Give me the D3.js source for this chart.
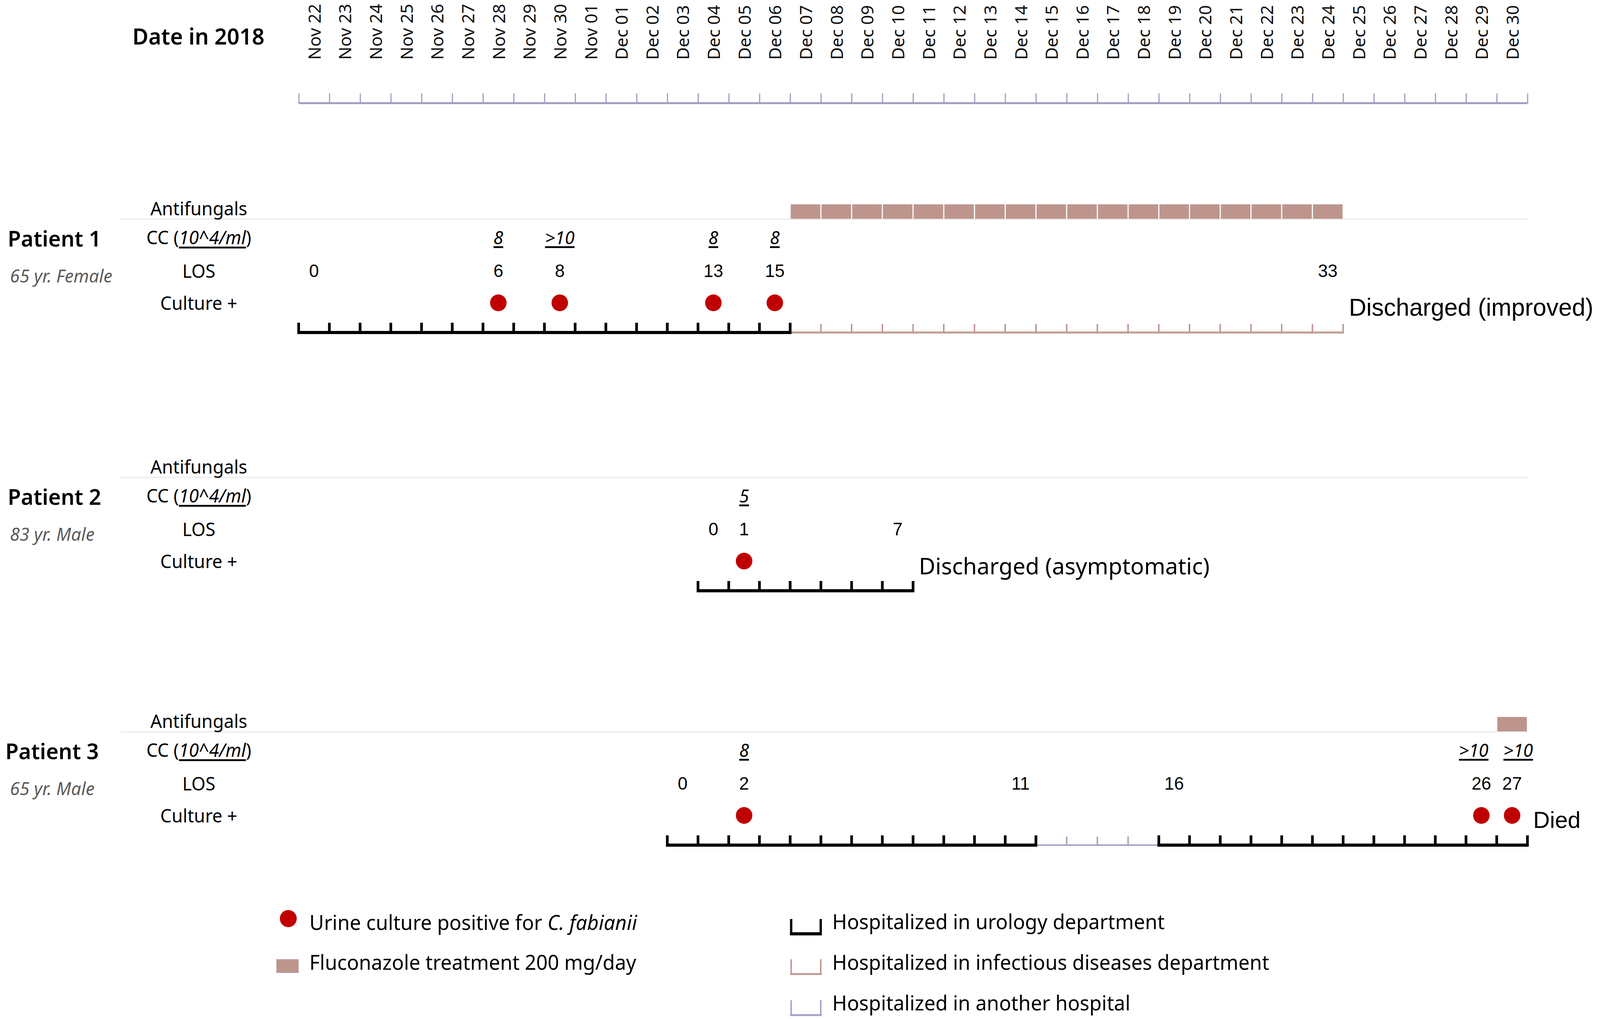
<!DOCTYPE html>
<html>
<head>
<meta charset="utf-8">
<script src="https://cdn.jsdelivr.net/npm/d3@7"></script>
<style>
  html, body { margin: 0; padding: 0; background: #fff; overflow: hidden; }
  svg { display: block; width: 100vw; height: 100vh; }
</style>
</head>
<body>
<svg id="chart" viewBox="0 0 4168 2608" preserveAspectRatio="none"></svg>
<script>
// ---------------- DATA ----------------
const dateLabels = [
  "Nov 22","Nov 23","Nov 24","Nov 25","Nov 26","Nov 27","Nov 28","Nov 29","Nov 30","Nov 01",
  "Dec 01","Dec 02","Dec 03","Dec 04","Dec 05","Dec 06","Dec 07","Dec 08","Dec 09","Dec 10",
  "Dec 11","Dec 12","Dec 13","Dec 14","Dec 15","Dec 16","Dec 17","Dec 18","Dec 19","Dec 20",
  "Dec 21","Dec 22","Dec 23","Dec 24","Dec 25","Dec 26","Dec 27","Dec 28","Dec 29","Dec 30"
];
const patientNames = ["Patient 1", "Patient 2", "Patient 3"];
const patientInfo  = ["65 yr. Female", "83 yr. Male", "65 yr. Male"];
const outcomes     = ["Discharged (improved)", "Discharged (asymptomatic)", "Died"];
const rowLabels    = ["Antifungals", "CC", "LOS", "Culture +"];

// hospital stays: [department, start day index, end day index]
const staysP1 = [["urology", 0, 16], ["infectious", 16, 34]];
const staysP2 = [["urology", 13, 20]];
const staysP3 = [["urology", 12, 24], ["another", 24, 28], ["urology", 28, 40]];

// positive urine culture days
const cultureP1 = [6, 8, 13, 15];
const cultureP2 = [14];
const cultureP3 = [14, 38, 39];

// colony counts (10^4/ml): [day, value]
const ccP1 = [[6, "8"], [8, ">10"], [13, "8"], [15, "8"]];
const ccP2 = [[14, "5"]];
const ccP3 = [[14, "8"], [38, ">10"], [39, ">10"]];

// length of stay labels: [day, value]
const losP1 = [[0, "0"], [6, "6"], [8, "8"], [13, "13"], [15, "15"], [33, "33"]];
const losP2 = [[13, "0"], [14, "1"], [19, "7"]];
const losP3 = [[12, "0"], [14, "2"], [23, "11"], [28, "16"], [38, "26"], [39, "27"]];

// fluconazole treatment days
const antifungalP1 = [16, 17, 18, 19, 20, 21, 22, 23, 24, 25, 26, 27, 28, 29, 30, 31, 32, 33];
const antifungalP2 = [];
const antifungalP3 = [39];

const legendItems = [
  "Urine culture positive for ", "Fluconazole treatment 200 mg/day",
  "Hospitalized in urology department", "Hospitalized in infectious diseases department",
  "Hospitalized in another hospital"
];

// ---------------- STYLE ----------------
const C = {
  dot: "#c00000",
  drug: "#bd958d",
  infectious: "#c09a92",
  another: "#a7a3c8",
  axis: "#a09cc2",
  urology: "#000000",
  sep: "#efefef"
};
const FONT = "'Noto Sans', 'DejaVu Sans', sans-serif";
const ARIAL = "'Liberation Sans', Arial, sans-serif";

// ---------------- SCALES ----------------
const x = d3.scaleLinear().domain([0, 40]).range([778, 3979]);
const dayW = x(1) - x(0);
const cx = d => x(d + 0.5);

const svg = d3.select("#chart");
svg.append("rect").attr("width", 4168).attr("height", 2608).attr("fill", "#fff");

// ---------------- HEADER AXIS ----------------
svg.append("text")
  .attr("x", 345).attr("y", 92)
  .attr("dominant-baseline", "central")
  .style("font-family", FONT).style("font-size", "57px").style("font-weight", "600")
  .text("Date in 2018");

const axisG = svg.append("g").attr("transform", "translate(0,264)");
const topAxis = d3.axisTop(x).tickValues(d3.range(0, 41)).tickSize(25).tickFormat("");
axisG.call(topAxis);
axisG.select(".domain").attr("stroke", C.axis).attr("stroke-width", 5)
  .attr("d", `M${x(0)},0H${x(40)}`);
axisG.selectAll(".tick line").attr("stroke", C.axis).attr("stroke-width", 3);

svg.append("g").selectAll("text").data(dateLabels).join("text")
  .attr("transform", (d, i) => `translate(${cx(i)},153) rotate(-90)`)
  .attr("text-anchor", "start")
  .attr("dominant-baseline", "central")
  .style("font-family", FONT).style("font-size", "44px").attr("fill", "#111")
  .text(d => d);

// ---------------- PATIENTS ----------------
const patients = [
  { base: 561,  stays: staysP1, culture: cultureP1, cc: ccP1, los: losP1, drug: antifungalP1 },
  { base: 1222, stays: staysP2, culture: cultureP2, cc: ccP2, los: losP2, drug: antifungalP2 },
  { base: 1873, stays: staysP3, culture: cultureP3, cc: ccP3, los: losP3, drug: antifungalP3 }
];
const OFF = { drugText: -28, cc: 46, los: 132, culture: 214, line: 290 };
const labelX = 518;

patients.forEach((p, pi) => {
  const g = svg.append("g");
  const b = p.base;

  // separator
  g.append("line").attr("x1", 314).attr("x2", x(40)).attr("y1", b).attr("y2", b)
    .attr("stroke", C.sep).attr("stroke-width", 4);

  // patient name & info
  g.append("text").attr("x", pi === 2 ? 14 : 20).attr("y", b + OFF.cc + 2)
    .attr("dominant-baseline", "central")
    .style("font-family", FONT).style("font-size", "56px").style("font-weight", "600")
    .text(patientNames[pi]);
  g.append("text").attr("x", 26).attr("y", b + OFF.los + 12)
    .attr("dominant-baseline", "central")
    .style("font-family", FONT).style("font-size", "46px").style("font-style", "italic")
    .attr("fill", "#5a5a5a")
    .text(patientInfo[pi]);

  // row labels
  const rowY = [b + OFF.drugText, b + OFF.cc, b + OFF.los, b + OFF.culture];
  rowLabels.forEach((lab, li) => {
    const t = g.append("text").attr("x", labelX).attr("y", rowY[li])
      .attr("text-anchor", "middle").attr("dominant-baseline", "central")
      .style("font-family", FONT).style("font-size", "47px");
    if (lab === "CC") {
      t.append("tspan").text("CC (");
      t.append("tspan").style("font-style", "italic").style("text-decoration", "underline").text("10^4/ml");
      t.append("tspan").text(")");
    } else {
      t.text(lab);
    }
  });

  // antifungal bars
  g.selectAll("rect.drug").data(p.drug).join("rect").attr("class", "drug")
    .attr("x", d => x(d) + 1.5).attr("width", dayW - 3)
    .attr("y", b - 38).attr("height", 37)
    .attr("fill", C.drug);

  // CC values (nudge adjacent labels apart)
  g.selectAll("text.cc").data(p.cc).join("text").attr("class", "cc")
    .attr("x", (d, i) => {
      let dx = 0;
      const prev = p.cc[i - 1], next = p.cc[i + 1];
      if (next && next[0] - d[0] === 1) dx = -20;
      if (prev && d[0] - prev[0] === 1) dx = 16;
      return cx(d[0]) + dx;
    })
    .attr("y", b + OFF.cc)
    .attr("text-anchor", "middle").attr("dominant-baseline", "central")
    .style("font-family", FONT).style("font-size", "46px")
    .style("font-style", "italic").style("text-decoration", "underline")
    .text(d => d[1]);

  // LOS values
  g.selectAll("text.los").data(p.los).join("text").attr("class", "los")
    .attr("x", d => cx(d[0])).attr("y", b + OFF.los)
    .attr("text-anchor", "middle").attr("dominant-baseline", "central")
    .style("font-family", ARIAL).style("font-size", "46px")
    .text(d => d[1]);

  // culture dots
  g.selectAll("circle").data(p.culture).join("circle")
    .attr("cx", d => cx(d)).attr("cy", b + OFF.culture).attr("r", 21.5)
    .attr("fill", C.dot);

  // hospital stay timeline (urology drawn last so its end ticks stay on top)
  const ly = b + OFF.line;
  const ordered = p.stays.filter(s => s[0] !== "urology").concat(p.stays.filter(s => s[0] === "urology"));
  ordered.forEach(s => {
    const [dept, s0, s1] = s;
    const sg = g.append("g");
    const col = dept === "urology" ? C.urology : dept === "infectious" ? C.infectious : C.another;
    const lw = dept === "urology" ? 8 : dept === "infectious" ? 5 : 4;
    const tw = dept === "urology" ? 7 : 4;
    const th = dept === "urology" ? 25 : 22;
    sg.append("line").attr("x1", x(s0)).attr("x2", x(s1)).attr("y1", ly).attr("y2", ly)
      .attr("stroke", col).attr("stroke-width", lw);
    sg.selectAll("line.tick").data(d3.range(s0, s1 + 1)).join("line").attr("class", "tick")
      .attr("x1", d => x(d)).attr("x2", d => x(d))
      .attr("y1", ly - th).attr("y2", ly + lw / 2)
      .attr("stroke", col).attr("stroke-width", tw);
  });

  // outcome
  const lastEnd = p.stays[p.stays.length - 1][2];
  g.append("text").attr("x", x(lastEnd) + 15).attr("y", b + OFF.culture + 11)
    .attr("dominant-baseline", "central")
    .style("font-family", pi === 1 ? FONT : ARIAL).style("font-size", pi === 1 ? "59px" : pi === 0 ? "63px" : "60px")
    .text(outcomes[pi]);
});

// ---------------- LEGEND ----------------
const lg = svg.append("g");
const LF = "52px";
lg.append("circle").attr("cx", 751).attr("cy", 2351).attr("r", 22).attr("fill", C.dot);
const t1 = lg.append("text").attr("x", 806).attr("y", 2360).attr("dominant-baseline", "central")
  .style("font-family", FONT).style("font-size", LF);
t1.append("tspan").text(legendItems[0]);
t1.append("tspan").style("font-style", "italic").text("C. fabianii");

lg.append("rect").attr("x", 720).attr("y", 2455).attr("width", 58).attr("height", 35).attr("fill", C.drug);
lg.append("text").attr("x", 806).attr("y", 2462).attr("dominant-baseline", "central")
  .style("font-family", FONT).style("font-size", LF).text(legendItems[1]);

const brackets = [
  { y: 2352, col: C.urology, lw: 8, sw: 6, label: legendItems[2], ty: 2358 },
  { y: 2455, col: C.infectious, lw: 5, sw: 4, label: legendItems[3], ty: 2462 },
  { y: 2560, col: C.another, lw: 5, sw: 4, label: legendItems[4], ty: 2566 }
];
brackets.forEach(bk => {
  const bottom = bk.y + 38;
  lg.append("path")
    .attr("d", `M2061,${bk.y}V${bottom}H2138V${bk.y}`)
    .attr("fill", "none").attr("stroke", bk.col).attr("stroke-width", bk.sw);
  lg.append("line").attr("x1", 2058).attr("x2", 2141).attr("y1", bottom).attr("y2", bottom)
    .attr("stroke", bk.col).attr("stroke-width", bk.lw);
  lg.append("text").attr("x", 2168).attr("y", bk.ty).attr("dominant-baseline", "central")
    .style("font-family", FONT).style("font-size", LF).text(bk.label);
});
</script>
</body>
</html>
